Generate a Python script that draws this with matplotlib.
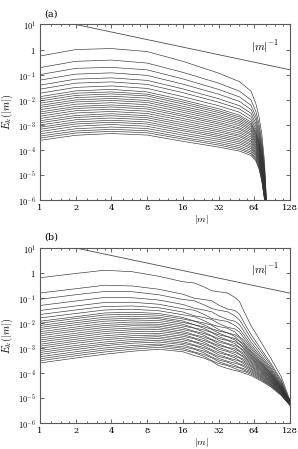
import matplotlib
matplotlib.use("Agg")
import matplotlib.pyplot as plt
import numpy as np

plt.rcParams['mathtext.fontset'] = 'cm'
plt.rcParams['font.family'] = 'DejaVu Serif'

# |m| sample points of the spectra, panel (a)
M_A = [1, 2, 4, 8, 16, 32, 48, 60, 66, 70, 74, 78, 82]
# log10 E_k(|m|), one row per curve
LOG_E_A = [
    [-0.26, 0.00, 0.04, -0.08, -0.47, -0.94, -1.28, -1.66, -2.16, -2.66, -3.36, -4.46, -6.46],
    [-0.72, -0.47, -0.42, -0.54, -0.91, -1.34, -1.66, -2.01, -2.47, -2.95, -3.62, -4.67, -6.53],
    [-1.00, -0.75, -0.71, -0.81, -1.17, -1.59, -1.89, -2.22, -2.67, -3.12, -3.78, -4.80, -6.58],
    [-1.22, -0.98, -0.93, -1.03, -1.38, -1.78, -2.07, -2.39, -2.81, -3.26, -3.90, -4.90, -6.61],
    [-1.42, -1.18, -1.13, -1.23, -1.57, -1.96, -2.24, -2.54, -2.95, -3.38, -4.01, -4.99, -6.65],
    [-1.58, -1.34, -1.29, -1.39, -1.72, -2.10, -2.37, -2.67, -3.06, -3.48, -4.10, -5.07, -6.67],
    [-1.74, -1.51, -1.45, -1.55, -1.88, -2.24, -2.50, -2.79, -3.17, -3.58, -4.19, -5.14, -6.70],
    [-1.88, -1.65, -1.59, -1.69, -2.01, -2.36, -2.62, -2.89, -3.26, -3.67, -4.27, -5.20, -6.72],
    [-1.97, -1.74, -1.69, -1.78, -2.09, -2.44, -2.69, -2.96, -3.33, -3.72, -4.32, -5.24, -6.74],
    [-2.05, -1.83, -1.77, -1.85, -2.17, -2.51, -2.76, -3.02, -3.38, -3.77, -4.37, -5.28, -6.76],
    [-2.14, -1.92, -1.86, -1.94, -2.26, -2.59, -2.83, -3.09, -3.44, -3.83, -4.42, -5.32, -6.78],
    [-2.23, -2.01, -1.95, -2.03, -2.34, -2.67, -2.90, -3.16, -3.50, -3.89, -4.47, -5.36, -6.80],
    [-2.31, -2.09, -2.03, -2.11, -2.42, -2.74, -2.97, -3.22, -3.56, -3.94, -4.51, -5.40, -6.82],
    [-2.40, -2.18, -2.12, -2.20, -2.50, -2.82, -3.04, -3.29, -3.62, -3.99, -4.56, -5.44, -6.84],
    [-2.49, -2.27, -2.21, -2.29, -2.59, -2.90, -3.12, -3.36, -3.68, -4.05, -4.61, -5.48, -6.86],
    [-2.57, -2.35, -2.29, -2.37, -2.66, -2.97, -3.18, -3.42, -3.73, -4.10, -4.66, -5.52, -6.88],
    [-2.66, -2.44, -2.38, -2.46, -2.75, -3.05, -3.26, -3.49, -3.80, -4.15, -4.71, -5.56, -6.90],
    [-2.75, -2.53, -2.47, -2.55, -2.83, -3.13, -3.33, -3.56, -3.86, -4.21, -4.76, -5.60, -6.92],
    [-2.84, -2.63, -2.56, -2.64, -2.92, -3.21, -3.41, -3.63, -3.92, -4.27, -4.81, -5.64, -6.93],
    [-2.92, -2.71, -2.64, -2.72, -3.00, -3.28, -3.47, -3.69, -3.97, -4.31, -4.86, -5.68, -6.94],
    [-3.01, -2.80, -2.73, -2.80, -3.08, -3.36, -3.55, -3.76, -4.04, -4.37, -4.91, -5.72, -6.95],
    [-3.10, -2.89, -2.82, -2.89, -3.17, -3.43, -3.62, -3.82, -4.10, -4.43, -4.96, -5.76, -6.96],
    [-3.18, -2.97, -2.90, -2.97, -3.24, -3.50, -3.69, -3.89, -4.15, -4.48, -5.00, -5.80, -6.97],
    [-3.27, -3.06, -2.99, -3.06, -3.33, -3.58, -3.76, -3.95, -4.21, -4.53, -5.05, -5.84, -6.98],
    [-3.36, -3.16, -3.09, -3.15, -3.41, -3.66, -3.84, -4.02, -4.27, -4.59, -5.10, -5.88, -6.99],
    [-3.45, -3.25, -3.18, -3.24, -3.50, -3.74, -3.91, -4.09, -4.34, -4.65, -5.16, -5.92, -7.00],
    [-3.53, -3.33, -3.26, -3.32, -3.57, -3.81, -3.98, -4.15, -4.39, -4.69, -5.20, -5.96, -7.00],
    [-3.62, -3.42, -3.35, -3.41, -3.66, -3.89, -4.05, -4.22, -4.45, -4.75, -5.25, -6.00, -7.00],
]

# |m| sample points, panel (b)
M_B = [1, 2, 3.5, 6, 10, 16, 20, 24, 28, 32, 38, 44, 48, 52, 60, 72, 88, 108, 128]
LOG_E_B = [
    [-0.19, -0.02, 0.11, 0.05, -0.13, -0.35, -0.40, -0.55, -0.71, -0.75, -0.80, -0.98, -1.14, -1.50, -2.10, -2.72, -3.40, -4.15, -5.10],
    [-0.80, -0.63, -0.49, -0.52, -0.65, -0.85, -1.01, -1.06, -1.11, -1.28, -1.44, -1.50, -1.65, -1.95, -2.46, -3.00, -3.61, -4.28, -5.14],
    [-1.05, -0.87, -0.74, -0.75, -0.87, -1.06, -1.11, -1.27, -1.42, -1.49, -1.55, -1.72, -1.88, -2.13, -2.61, -3.12, -3.69, -4.34, -5.15],
    [-1.30, -1.12, -0.98, -0.99, -1.08, -1.26, -1.41, -1.48, -1.55, -1.71, -1.86, -1.93, -2.06, -2.31, -2.75, -3.24, -3.78, -4.40, -5.17],
    [-1.50, -1.32, -1.18, -1.17, -1.25, -1.43, -1.49, -1.65, -1.82, -1.88, -1.94, -2.10, -2.24, -2.46, -2.87, -3.33, -3.84, -4.44, -5.18],
    [-1.66, -1.48, -1.34, -1.32, -1.39, -1.56, -1.71, -1.78, -1.86, -2.02, -2.17, -2.24, -2.36, -2.58, -2.96, -3.40, -3.90, -4.47, -5.19],
    [-1.80, -1.62, -1.48, -1.45, -1.51, -1.67, -1.75, -1.90, -2.06, -2.14, -2.21, -2.36, -2.55, -2.68, -3.04, -3.47, -3.94, -4.50, -5.20],
    [-1.93, -1.75, -1.60, -1.57, -1.62, -1.78, -1.92, -2.00, -2.09, -2.26, -2.40, -2.47, -2.59, -2.78, -3.12, -3.53, -3.99, -4.53, -5.20],
    [-2.01, -1.82, -1.68, -1.65, -1.69, -1.84, -1.93, -2.07, -2.23, -2.32, -2.39, -2.54, -2.72, -2.83, -3.17, -3.56, -4.01, -4.55, -5.21],
    [-2.10, -1.91, -1.77, -1.73, -1.77, -1.92, -2.07, -2.15, -2.25, -2.40, -2.54, -2.62, -2.73, -2.90, -3.22, -3.61, -4.04, -4.57, -5.21],
    [-2.18, -1.99, -1.85, -1.81, -1.83, -1.98, -2.07, -2.21, -2.37, -2.47, -2.55, -2.68, -2.84, -2.96, -3.27, -3.64, -4.07, -4.59, -5.22],
    [-2.26, -2.07, -1.93, -1.88, -1.90, -2.05, -2.20, -2.28, -2.38, -2.54, -2.68, -2.75, -2.86, -3.02, -3.31, -3.68, -4.10, -4.61, -5.22],
    [-2.35, -2.16, -2.02, -1.96, -1.98, -2.12, -2.21, -2.36, -2.51, -2.62, -2.70, -2.83, -2.98, -3.08, -3.37, -3.72, -4.13, -4.63, -5.23],
    [-2.43, -2.24, -2.10, -2.04, -2.05, -2.19, -2.33, -2.42, -2.53, -2.69, -2.82, -2.90, -2.99, -3.14, -3.41, -3.76, -4.16, -4.64, -5.23],
    [-2.51, -2.32, -2.18, -2.11, -2.12, -2.26, -2.36, -2.49, -2.66, -2.76, -2.85, -2.97, -3.11, -3.20, -3.46, -3.80, -4.18, -4.66, -5.24],
    [-2.60, -2.41, -2.26, -2.20, -2.19, -2.33, -2.47, -2.56, -2.68, -2.84, -2.97, -3.04, -3.14, -3.27, -3.51, -3.84, -4.21, -4.68, -5.24],
    [-2.68, -2.49, -2.34, -2.27, -2.26, -2.40, -2.50, -2.63, -2.79, -2.90, -2.99, -3.11, -3.24, -3.33, -3.56, -3.87, -4.24, -4.70, -5.25],
    [-2.76, -2.57, -2.42, -2.35, -2.33, -2.46, -2.60, -2.70, -2.82, -2.97, -3.10, -3.18, -3.26, -3.38, -3.61, -3.91, -4.27, -4.71, -5.25],
    [-2.85, -2.65, -2.51, -2.43, -2.41, -2.53, -2.63, -2.77, -2.93, -3.05, -3.14, -3.26, -3.38, -3.45, -3.66, -3.95, -4.30, -4.74, -5.26],
    [-2.93, -2.73, -2.59, -2.51, -2.48, -2.60, -2.74, -2.84, -2.96, -3.12, -3.25, -3.33, -3.40, -3.51, -3.71, -3.99, -4.32, -4.75, -5.26],
    [-3.01, -2.81, -2.67, -2.58, -2.55, -2.67, -2.77, -2.91, -3.07, -3.19, -3.28, -3.40, -3.51, -3.57, -3.75, -4.03, -4.35, -4.77, -5.27],
    [-3.10, -2.90, -2.76, -2.66, -2.62, -2.74, -2.88, -2.98, -3.11, -3.27, -3.39, -3.47, -3.53, -3.63, -3.81, -4.07, -4.38, -4.79, -5.27],
    [-3.18, -2.98, -2.84, -2.74, -2.69, -2.81, -2.91, -3.05, -3.22, -3.34, -3.42, -3.54, -3.64, -3.69, -3.85, -4.11, -4.41, -4.81, -5.28],
    [-3.26, -3.06, -2.91, -2.81, -2.76, -2.87, -3.02, -3.12, -3.25, -3.41, -3.53, -3.61, -3.66, -3.75, -3.90, -4.14, -4.44, -4.83, -5.28],
    [-3.35, -3.15, -3.00, -2.90, -2.84, -2.95, -3.05, -3.19, -3.36, -3.48, -3.57, -3.69, -3.78, -3.82, -3.95, -4.18, -4.47, -4.84, -5.28],
    [-3.43, -3.23, -3.08, -2.97, -2.90, -3.01, -3.16, -3.26, -3.39, -3.55, -3.67, -3.75, -3.80, -3.88, -4.00, -4.22, -4.49, -4.86, -5.29],
    [-3.51, -3.31, -3.16, -3.05, -2.97, -3.08, -3.19, -3.33, -3.50, -3.62, -3.70, -3.82, -3.90, -3.93, -4.05, -4.26, -4.52, -4.88, -5.29],
    [-3.60, -3.40, -3.25, -3.13, -3.05, -3.15, -3.30, -3.40, -3.53, -3.70, -3.82, -3.90, -3.94, -4.00, -4.10, -4.30, -4.55, -4.90, -5.30],
]

# |m|^-1 reference line end points
REF_M = [2, 128]
REF_E = [10.0, 0.156]

X_TICKS = [1, 2, 4, 8, 16, 32, 64, 128]
X_MINOR = [1.25, 1.5, 1.75, 2.5, 3, 3.5, 5, 6, 7, 10, 12, 14, 20, 24, 28,
           40, 48, 56, 80, 96, 112]
Y_TICKS = [1e1, 1e0, 1e-1, 1e-2, 1e-3, 1e-4, 1e-5, 1e-6]
Y_LABELS = [r'$10^{1}$', r'$1$', r'$10^{-1}$', r'$10^{-2}$', r'$10^{-3}$',
            r'$10^{-4}$', r'$10^{-5}$', r'$10^{-6}$']


def draw(ax, m, log_e, tag):
    for row in log_e:
        ax.plot(m, np.power(10.0, row), color='0.2', lw=0.45)
    ax.plot(REF_M, REF_E, color='0.3', lw=0.6)
    ax.set_xscale('log', base=2)
    ax.set_yscale('log')
    ax.set_xlim(1, 128)
    ax.set_ylim(1e-6, 1e1)
    ax.set_xticks(X_TICKS)
    ax.set_xticklabels([str(v) for v in X_TICKS])
    ax.set_xticks(X_MINOR, minor=True)
    ax.set_xticklabels([], minor=True)
    ax.set_yticks(Y_TICKS)
    ax.set_yticklabels(Y_LABELS)
    ax.set_yticks([], minor=True)
    ax.tick_params(which='both', direction='in', top=True, right=True,
                   labelsize=6, width=0.6, color='0.3', pad=3)
    ax.tick_params(which='major', length=3)
    ax.tick_params(which='minor', length=1.5)
    for s in ax.spines.values():
        s.set_linewidth(0.8)
        s.set_color('0.35')
    ax.text(0.9, 0.875, r'$|m|^{-1}$', transform=ax.transAxes,
            fontsize=8, ha='center', va='center')
    ax.text(0.045, 1.06, tag, transform=ax.transAxes, fontsize=7,
            ha='center', va='center')
    ax.set_xlabel(r'$|m|$', fontsize=7)
    ax.xaxis.set_label_coords(0.644, -0.075)
    ax.set_ylabel(r'$E_k(|m|)$', fontsize=7.5)
    ax.yaxis.set_label_coords(-0.1, 0.5)


fig = plt.figure(figsize=(2.98, 4.49), dpi=100)
ax_a = fig.add_axes([0.1342, 0.5546, 0.839, 0.3909])
ax_b = fig.add_axes([0.1342, 0.0579, 0.839, 0.3898])
draw(ax_a, M_A, LOG_E_A, '(a)')
draw(ax_b, M_B, LOG_E_B, '(b)')
fig.savefig('out.png', dpi=100)
